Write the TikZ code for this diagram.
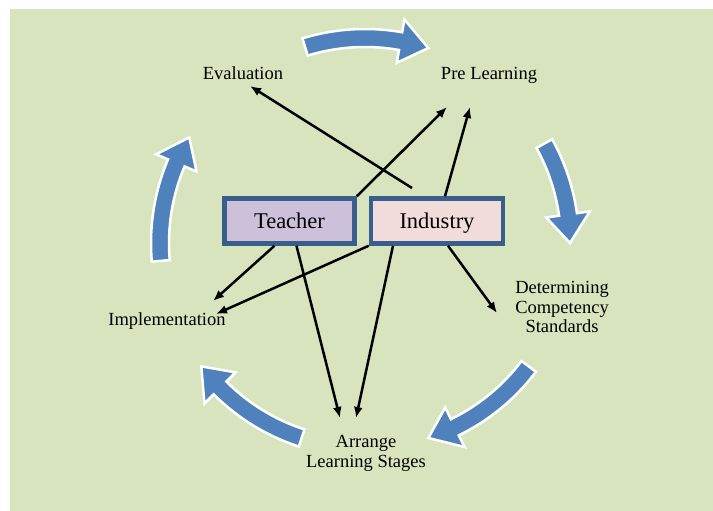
\documentclass[tikz,border=0pt]{standalone}
\usepackage{fontspec}
\setmainfont{Liberation Serif}
\usetikzlibrary{arrows.meta,positioning,calc}

\definecolor{bggreen}{RGB}{215,228,189}
\definecolor{cycleblue}{RGB}{79,129,189}
\definecolor{boxborder}{RGB}{58,94,140}
\definecolor{teacherfill}{RGB}{204,192,218}
\definecolor{industryfill}{RGB}{242,220,219}

\tikzset{
  actor/.style={draw=boxborder, line width=4.5pt, minimum width=130pt, minimum height=45pt, text height=16pt, text depth=2pt, font=\fontsize{22.5}{24}\selectfont},
  phase/.style={align=center, font=\fontsize{18.5}{19.5}\selectfont},
  link/.style={line width=2.5pt, -{Latex[length=11pt,width=9pt]}},
  cyclearrow/.style={fill=cycleblue, draw=white, line width=2.5pt, line join=miter}
}

\begin{document}
\begin{tikzpicture}[x=1pt,y=1pt]
\useasboundingbox (0,0) rectangle (713,-511);
\fill[bggreen] (10,-9) rectangle (713,-511);

% Cycle
\coordinate (cc) at (365,-243);
\foreach \a/\b in {107/72, 29/0, -37/-72, -108/-143, 185/149}{
  \pgfmathsetmacro\m{\b+8}
  \filldraw[cyclearrow] ([shift={(\a:214)}]cc) arc[start angle=\a, end angle=\m, radius=214]
    -- ([shift={(\m:227)}]cc) -- ([shift={(\b:205)}]cc) -- ([shift={(\m:183)}]cc)
    -- ([shift={(\m:196)}]cc) arc[start angle=\m, end angle=\a, radius=196] -- cycle;
}

% Phases
\node[phase] (eval) at (243,-73.5) {Evaluation};
\node[phase] (pre) at (489,-75.5) {Pre Learning};
\node[phase] (determ) at (562,-307) {Determining\\Competency\\Standards};
\node[phase] (arrange) at (366,-453.5) {Arrange\\Learning Stages};
\node[phase] (impl) at (167,-321.5) {Implementation};

% Actors
\node[actor, fill=teacherfill] (teacher) at (289.5,-221) {Teacher};
\node[actor, fill=industryfill, minimum width=132pt] (industry) at (437,-221) {Industry};

% Arrows
\draw[link] ($(industry)+(-25,33)$) -- ($(eval)+(7,-12.5)$);
\draw[link] (teacher.north east) -- ($(pre)+(-42,-31.5)$);
\draw[link] ($(industry.north)+(8,0)$) -- ($(pre)+(-19,-31.5)$);
\draw[link] ($(teacher.south)+(-15,0)$) -- ($(impl)+(46,20.5)$);
\draw[link] (industry.south west) -- ($(impl)+(49,7.5)$);
\draw[link] ($(teacher.south)+(7,0)$) -- ($(arrange)+(-26,35.5)$);
\draw[link] ($(industry.south)+(-44,0)$) -- ($(arrange)+(-10,35.5)$);
\draw[link] ($(industry.south)+(11,0)$) -- ($(determ)+(-65,-6)$);

\end{tikzpicture}
\end{document}
